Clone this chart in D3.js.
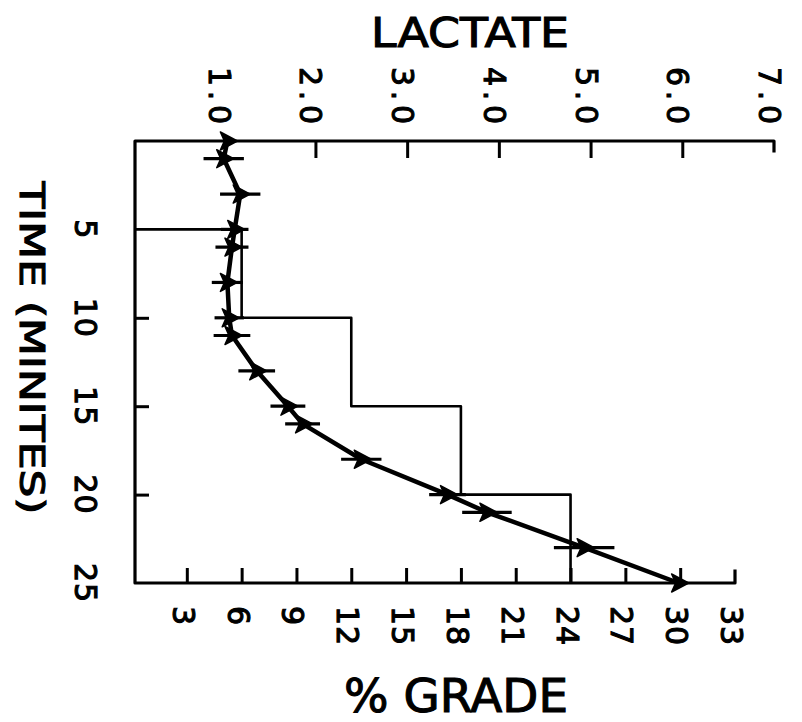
<!DOCTYPE html>
<html>
<head>
<meta charset="utf-8">
<script src="https://cdn.jsdelivr.net/npm/d3@7"></script>
<style>
  html, body { margin: 0; padding: 0; background: #fff; }
  svg { display: block; }
  text { font-family: "DejaVu Sans", sans-serif; font-weight: 400; fill: #000; stroke: #000; stroke-width: 1.1px; }
</style>
</head>
<body>
<svg id="chart" width="802" height="722"></svg>
<script>
// ---- data ----
const timeMin   = [0, 1, 3, 5, 6, 8, 10, 11, 13, 15, 16, 18, 20, 21, 23, 25];
const lactate   = [1.04, 1.0, 1.18, 1.12, 1.09, 1.04, 1.06, 1.09, 1.36, 1.70, 1.86, 2.50, 3.44, 3.87, 4.93, 5.96];
const lactateSE = [0, 0.22, 0.22, 0.15, 0.18, 0.17, 0.16, 0.2, 0.2, 0.19, 0.19, 0.22, 0.2, 0.27, 0.33, 0];

const stageTime  = [5, 10, 15, 20, 25];
const stageGrade = [6, 12, 18, 24];

const lactateTicks = [1, 2, 3, 4, 5, 6, 7];
const lactateLabels = ["1.0", "2.0", "3.0", "4.0", "5.0", "6.0", "7.0"];
const gradeTicks = [3, 6, 9, 12, 15, 18, 21, 24, 27, 30, 33];
const timeTicks = [5, 10, 15, 20, 25];

// ---- scales ----
const x = d3.scaleLinear().domain([0, 7]).range([132, 774]);   // lactate (top)
const g = d3.scaleLinear().domain([0, 33]).range([132, 735]);  // % grade (bottom)
const y = d3.scaleLinear().domain([0, 25]).range([141, 583]);  // time (down)

const svg = d3.select("#chart");
const lineGen = d3.line();

// ---- frame ----
const frame = svg.append("g").attr("fill", "none").attr("stroke", "#000")
  .attr("stroke-width", 3.2).attr("stroke-linecap", "square").attr("stroke-linejoin", "round");
frame.append("path").attr("d", lineGen([[x(7), y(0) + 10], [x(7), y(0)], [135, y(0)], [135, y(25)], [g(33), y(25)], [g(33), y(25) - 12]]));

// top ticks (down)
const topAxis = d3.axisBottom(x).tickValues(lactateTicks.slice(1, 6)).tickSize(17).tickFormat("").tickSizeOuter(0);
const ta = svg.append("g").attr("transform", `translate(0,${y(0)})`).call(topAxis);
ta.select(".domain").remove();
ta.selectAll("line").attr("stroke-width", 3);

// bottom ticks (up)
const botAxis = d3.axisTop(g).tickValues(gradeTicks.slice(0, 10)).tickSize(15).tickFormat("").tickSizeOuter(0);
const ba = svg.append("g").attr("transform", `translate(0,${y(25)})`).call(botAxis);
ba.select(".domain").remove();
ba.selectAll("line").attr("stroke-width", 3);

// left ticks (right)
const leftAxis = d3.axisLeft(y).tickValues([10, 15, 20]).tickSize(-14).tickFormat("").tickSizeOuter(0);
const la = svg.append("g").attr("transform", `translate(135,0)`).call(leftAxis);
la.select(".domain").remove();
la.selectAll("line").attr("stroke-width", 3);

// ---- step protocol ----
const stepPts = [[135, y(stageTime[0])]];
stageGrade.forEach((gr, i) => {
  stepPts.push([g(gr), y(stageTime[i])]);
  stepPts.push([g(gr), y(stageTime[i + 1])]);
});
svg.append("path").attr("d", lineGen(stepPts)).attr("fill", "none")
  .attr("stroke", "#000").attr("stroke-width", 2.6).attr("stroke-linejoin", "round");

// ---- lactate curve ----
const pts = timeMin.map((t, i) => [x(lactate[i]), y(t)]);
svg.append("path").attr("d", d3.line()(pts)).attr("fill", "none")
  .attr("stroke", "#000").attr("stroke-width", 4.5).attr("stroke-linejoin", "round");

// error bars
svg.append("g").selectAll("line").data(timeMin.map((t, i) => i).filter(i => lactateSE[i] > 0)).join("line")
  .attr("x1", i => x(lactate[i] - lactateSE[i])).attr("x2", i => x(lactate[i] + lactateSE[i]))
  .attr("y1", i => y(timeMin[i])).attr("y2", i => y(timeMin[i]))
  .attr("stroke", "#000").attr("stroke-width", 3.2);

// triangle markers
svg.append("g").selectAll("path").data(pts).join("path")
  .attr("d", d => `M${d[0] - 7},${d[1] - 9} L${d[0] + 10},${d[1]} L${d[0] - 7},${d[1] + 9} L${d[0] - 3},${d[1]} Z`)
  .attr("fill", "#000").attr("stroke", "#000").attr("stroke-width", 1.5).attr("stroke-linejoin", "round");

// ---- labels ----
// top lactate labels (rotated)
svg.append("g").selectAll("text").data(lactateTicks).join("text")
  .attr("transform", (d) => `translate(${x(d) - 15},67) rotate(90)`)
  .attr("font-size", 30).attr("textLength", 57).attr("lengthAdjust", "spacing")
  .text((d, i) => lactateLabels[i]);

// bottom grade labels
svg.append("g").selectAll("text").data(gradeTicks).join("text")
  .attr("transform", d => `translate(${g(d) - 14},606) rotate(90)`)
  .attr("font-size", 30).attr("letter-spacing", 1)
  .text(d => d);

// left time labels
svg.append("g").selectAll("text").data(timeTicks).join("text")
  .attr("transform", d => `translate(75,${y(d)}) rotate(90)`)
  .attr("text-anchor", "middle").attr("font-size", 30).attr("letter-spacing", 1)
  .text(d => d);

// titles
svg.append("text").attr("x", 470).attr("y", 47).attr("text-anchor", "middle")
  .attr("font-size", 41).attr("textLength", 198).attr("lengthAdjust", "spacingAndGlyphs").text("LACTATE");
svg.append("text").attr("x", 456).attr("y", 712).attr("text-anchor", "middle")
  .attr("font-size", 47).attr("textLength", 224).attr("lengthAdjust", "spacingAndGlyphs").text("% GRADE");
svg.append("text").attr("transform", "translate(20,348) rotate(90)").attr("text-anchor", "middle")
  .attr("font-size", 34).attr("textLength", 333).attr("lengthAdjust", "spacingAndGlyphs").text("TIME (MINITES)");
</script>
</body>
</html>
